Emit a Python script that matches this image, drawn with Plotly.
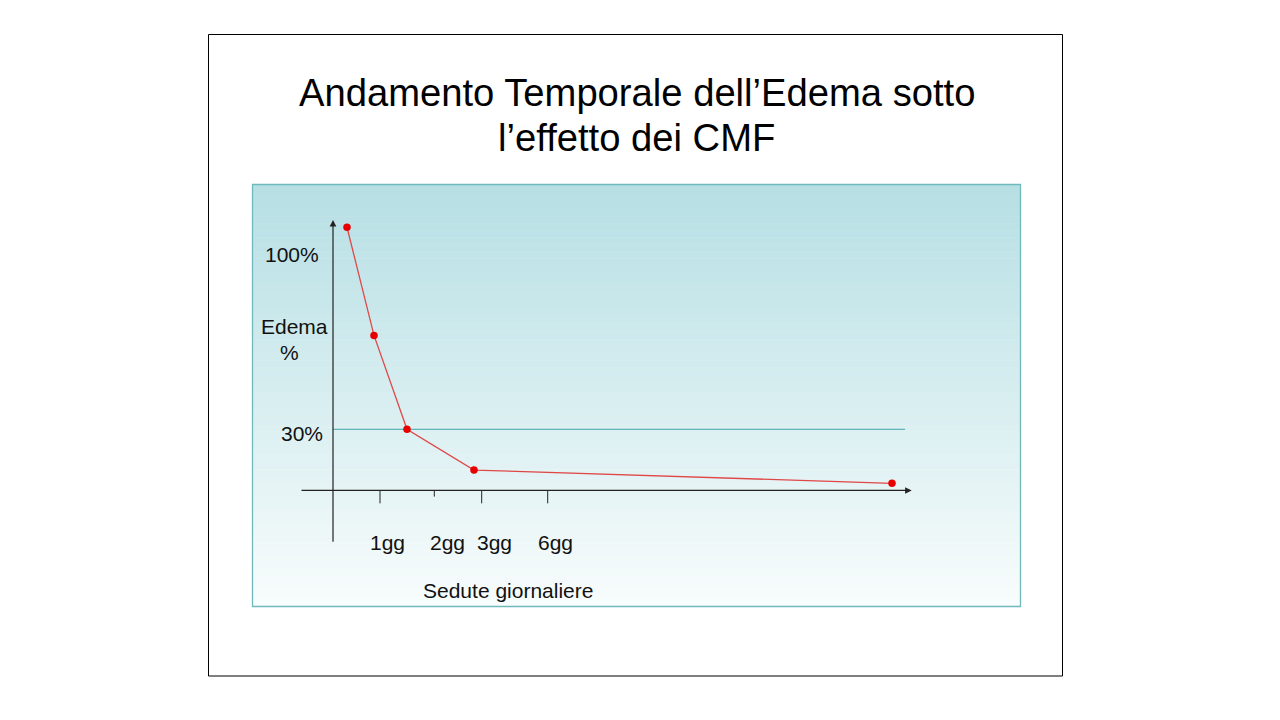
import plotly.graph_objects as go

W, H = 1280, 720

# ---------------- data ----------------
# x position along the session axis (arbitrary units, 0 = origin)
session_pos = [1.4, 4.1, 7.4, 14.1, 55.9]
edema_pct = [129, 76, 30, 10, 3.5]

threshold_pct = 30
threshold_end = 57.2

tick_pos = [4.7, 10.13, 14.87, 21.47]
tick_long = [True, False, True, True]
tick_labels = ["1gg", "2gg", "3gg", "6gg"]
tick_label_pos = [5.45, 11.45, 16.17, 22.2]

title_lines = ["Andamento Temporale dell\u2019Edema sotto", "l\u2019effetto dei CMF"]
x_title = "Sedute giornaliere"

# ---------------- scales ----------------
X_RANGE = [-33.3, 94.7]       # 10 px per unit
Y_RANGE = [-112.5, 240.4]     # ~2.04 px per %

FONT = "Liberation Sans, Arial, sans-serif"

fig = go.Figure()

fig.add_trace(go.Scatter(
    x=session_pos, y=edema_pct, mode="lines+markers",
    line=dict(color="#e04848", width=1.3),
    marker=dict(color="#e80000", size=7.5),
    hoverinfo="skip", showlegend=False, cliponaxis=False,
))

shapes = []
# slide frame
shapes.append(dict(type="rect", xref="paper", yref="paper",
                   x0=208.5 / W, x1=1062.5 / W, y0=1 - 676 / H, y1=1 - 34.5 / H,
                   line=dict(color="black", width=1), fillcolor="white", layer="below"))
# gradient panel
top_c = (182, 223, 228)
bot_c = (248, 252, 252)
px0, px1, py0, py1 = 252.5, 1020.5, 184.5, 606.5
n = 120
for i in range(n):
    t = i / (n - 1)
    c = tuple(int(round(top_c[k] + (bot_c[k] - top_c[k]) * t)) for k in range(3))
    ya = py0 + (py1 - py0) * i / n
    yb = py0 + (py1 - py0) * (i + 1) / n
    shapes.append(dict(type="rect", xref="paper", yref="paper",
                       x0=px0 / W, x1=px1 / W, y0=1 - (yb + 0.5) / H, y1=1 - ya / H,
                       line=dict(width=0), fillcolor="rgb(%d,%d,%d)" % c, layer="below"))
shapes.append(dict(type="rect", xref="paper", yref="paper",
                   x0=px0 / W, x1=px1 / W, y0=1 - py1 / H, y1=1 - py0 / H,
                   line=dict(color="#6fb8bc", width=1.3), layer="below"))
# 30% threshold line
shapes.append(dict(type="line", xref="x", yref="y", x0=0, x1=threshold_end,
                   y0=threshold_pct, y1=threshold_pct,
                   line=dict(color="#3fa3aa", width=1), layer="below"))
# ticks
for tp, lg in zip(tick_pos, tick_long):
    shapes.append(dict(type="line", xref="x", yref="y", x0=tp, x1=tp,
                       y0=0, y1=-6.3 if lg else -3.0,
                       line=dict(color="#222222", width=1)))

annotations = []
# axes with arrows
annotations.append(dict(x=0, y=132.6, ax=0, ay=-25.9, xref="x", yref="y",
                        axref="x", ayref="y", text="", showarrow=True,
                        arrowhead=2, arrowsize=1.1, arrowwidth=1.2,
                        arrowcolor="#222222", standoff=0, startstandoff=0))
annotations.append(dict(x=57.87, y=0, ax=-3.3, ay=0, xref="x", yref="y",
                        axref="x", ayref="y", text="", showarrow=True,
                        arrowhead=2, arrowsize=1.1, arrowwidth=1.2,
                        arrowcolor="#222222", standoff=0, startstandoff=0))

lab_font = dict(family=FONT, size=21, color="#111111")
annotations.append(dict(x=-4.1, y=115.9, xref="x", yref="y", text="100%",
                        showarrow=False, font=lab_font, xanchor="center", yanchor="middle"))
annotations.append(dict(x=-3.85, y=80.6, xref="x", yref="y", text="Edema",
                        showarrow=False, font=lab_font, xanchor="center", yanchor="middle"))
annotations.append(dict(x=-4.37, y=67.4, xref="x", yref="y", text="%",
                        showarrow=False, font=lab_font, xanchor="center", yanchor="middle"))
annotations.append(dict(x=-3.1, y=27.7, xref="x", yref="y", text="30%",
                        showarrow=False, font=lab_font, xanchor="center", yanchor="middle"))
for lp, lt in zip(tick_label_pos, tick_labels):
    annotations.append(dict(x=lp, y=-25.7, xref="x", yref="y", text=lt,
                            showarrow=False, font=lab_font, xanchor="center", yanchor="middle"))
annotations.append(dict(x=17.45, y=-48.8, xref="x", yref="y", text=x_title,
                        showarrow=False, font=lab_font, xanchor="center", yanchor="middle"))
# title, one annotation per line
for line_txt, cy in zip(title_lines, [93, 137]):
    annotations.append(dict(x=636.5 / W, y=1 - cy / H, xref="paper", yref="paper",
                            text=line_txt, showarrow=False, align="center",
                            font=dict(family=FONT, size=38.2, color="black"),
                            xanchor="center", yanchor="middle"))

fig.update_layout(
    width=W, height=H,
    margin=dict(l=0, r=0, t=0, b=0),
    paper_bgcolor="white", plot_bgcolor="rgba(0,0,0,0)",
    xaxis=dict(range=X_RANGE, visible=False, fixedrange=True),
    yaxis=dict(range=Y_RANGE, visible=False, fixedrange=True),
    shapes=shapes, annotations=annotations,
    showlegend=False,
)

fig.write_html("out.html", config={"displayModeBar": False})
